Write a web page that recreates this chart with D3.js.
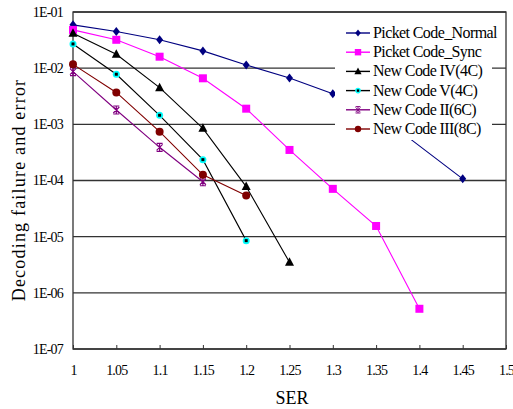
<!DOCTYPE html>
<html lang="en">
<head>
<meta charset="UTF-8">
<title>Decoding failure vs SER</title>
<script src="https://cdn.jsdelivr.net/npm/d3@7/dist/d3.min.js"></script>
<style>
    body { margin: 0; background: #fff; }
    .grid line { stroke: #333; stroke-width: 1.3px; }
</style>
</head>
<body>
<svg width="513" height="409"></svg>
<script>
// data
const serTicks = [1, 1.05, 1.1, 1.15, 1.2, 1.25, 1.3, 1.35, 1.4, 1.45, 1.5];
const yTicks = [1e-1, 1e-2, 1e-3, 1e-4, 1e-5, 1e-6, 1e-7];
const yTickLabels = ["1E-01", "1E-02", "1E-03", "1E-04", "1E-05", "1E-06", "1E-07"];

const pcNormalX = [1, 1.05, 1.1, 1.15, 1.2, 1.25, 1.3, 1.35, 1.45];
const pcNormalY = [0.059, 0.045, 0.032, 0.0203, 0.0114, 0.0067, 0.0035, 0.0016, 1.07e-4];
const pcSyncX = [1, 1.05, 1.1, 1.15, 1.2, 1.25, 1.3, 1.35, 1.4];
const pcSyncY = [0.048, 0.032, 0.016, 0.0066, 0.0019, 3.5e-4, 7.1e-5, 1.55e-5, 5.2e-7];
const nc4X = [1, 1.05, 1.1, 1.15, 1.2, 1.25];
const nc4Y = [0.042, 0.0177, 0.0045, 8.5e-4, 7.8e-5, 3.5e-6];
const nc5X = [1, 1.05, 1.1, 1.15, 1.2];
const nc5Y = [0.027, 0.0078, 1.45e-3, 2.35e-4, 8.5e-6];
const nc2X = [1, 1.05, 1.1, 1.15];
const nc2Y = [0.0087, 1.8e-3, 3.9e-4, 9.5e-5];
const nc3X = [1, 1.05, 1.1, 1.15, 1.2];
const nc3Y = [0.0117, 3.7e-3, 7.4e-4, 1.26e-4, 5.4e-5];

const series = [
    { name: "Picket Code_Normal", xs: pcNormalX, ys: pcNormalY, line: "#000080", fill: "#000080", mark: "diamond" },
    { name: "Picket Code_Sync", xs: pcSyncX, ys: pcSyncY, line: "#ff00ff", fill: "#ff00ff", mark: "square" },
    { name: "New Code IV(4C)", xs: nc4X, ys: nc4Y, line: "#000000", fill: "#000000", mark: "triangle" },
    { name: "New Code V(4C)", xs: nc5X, ys: nc5Y, line: "#000000", fill: "#00ffff", mark: "dot" },
    { name: "New Code II(6C)", xs: nc2X, ys: nc2Y, line: "#800080", fill: "#800080", mark: "star" },
    { name: "New Code III(8C)", xs: nc3X, ys: nc3Y, line: "#800000", fill: "#800000", mark: "circle" }
];

const serif = "Liberation Serif";
const svg = d3.select("svg");
const plotL = 73, plotR = 506, plotT = 12, plotB = 349;

const x = d3.scaleLinear().domain([1, 1.5]).range([plotL, plotR]);
const y = d3.scaleLog().domain([1e-7, 1e-1]).range([plotB, plotT]);

// horizontal gridlines
svg.append("g").attr("class", "grid")
    .selectAll("line").data(yTicks).enter().append("line")
    .attr("x1", plotL).attr("x2", plotR)
    .attr("y1", d => y(d)).attr("y2", d => y(d));

// frame
svg.append("rect")
    .attr("x", plotL).attr("y", plotT)
    .attr("width", plotR - plotL).attr("height", plotB - plotT)
    .attr("fill", "none").attr("stroke", "#333").attr("stroke-width", 1.3);

// x axis ticks (inside) and labels
const xAxis = svg.append("g").attr("transform", `translate(0,${plotB})`)
    .call(d3.axisBottom(x).tickValues(serTicks).tickSize(-4).tickPadding(16)
        .tickFormat(d => String(+d.toFixed(2))));
xAxis.select(".domain").remove();
xAxis.selectAll("line").attr("stroke", "#333");
xAxis.selectAll("text").style("font-family", serif).style("font-size", "14px")
    .style("letter-spacing", "-0.8px").attr("fill", "#000");

// y axis labels
const yAxis = svg.append("g").attr("transform", `translate(${plotL},0)`)
    .call(d3.axisLeft(y).tickValues(yTicks).tickSize(0).tickPadding(10)
        .tickFormat((d, i) => yTickLabels[i]));
yAxis.select(".domain").remove();
yAxis.selectAll("text").style("font-family", serif).style("font-size", "14px")
    .style("letter-spacing", "-0.8px").attr("fill", "#000");

// axis titles
svg.append("text")
    .attr("transform", "translate(25,190) rotate(-90)")
    .attr("text-anchor", "middle")
    .style("font-family", serif).style("font-size", "18px").style("letter-spacing", "1.2px")
    .text("Decoding failure and error");
svg.append("text")
    .attr("x", 292).attr("y", 404)
    .attr("text-anchor", "middle")
    .style("font-family", serif).style("font-size", "18px")
    .text("SER");

function marker(g, type, fill) {
    if (type === "diamond") {
        g.append("path").attr("d", "M0,-4.5L3.5,0L0,4.5L-3.5,0Z").attr("fill", fill);
    } else if (type === "square") {
        g.append("rect").attr("x", -4).attr("y", -4).attr("width", 8).attr("height", 8).attr("fill", fill);
    } else if (type === "triangle") {
        g.append("path").attr("d", "M0,-5L4.5,3.5L-4.5,3.5Z").attr("fill", fill);
    } else if (type === "dot") {
        g.append("circle").attr("r", 3.5).attr("fill", fill);
        g.append("rect").attr("x", -1.5).attr("y", -1.5).attr("width", 3).attr("height", 3).attr("fill", "#000");
    } else if (type === "star") {
        g.append("path").attr("d", "M-3,-3L3,3M-3,3L3,-3M0,-4L0,4M-3,-4L3,-4M-3,4L3,4")
            .attr("stroke", fill).attr("stroke-width", 1.2).attr("fill", "none");
    } else {
        g.append("circle").attr("r", 4).attr("fill", fill);
    }
}

const line = d3.line().x(d => x(d[0])).y(d => y(d[1]));

series.forEach(s => {
    const pts = s.xs.map((v, i) => [v, s.ys[i]]);
    svg.append("path").datum(pts)
        .attr("d", line)
        .attr("fill", "none")
        .attr("stroke", s.line)
        .attr("stroke-width", 1.1);
    pts.forEach(p => {
        marker(svg.append("g").attr("transform", `translate(${x(p[0])},${y(p[1])})`), s.mark, s.fill);
    });
});

// legend with white background
const legend = svg.append("g").attr("transform", "translate(335,22)");
legend.append("rect").attr("x", 0).attr("y", 0).attr("width", 157).attr("height", 118).attr("fill", "#fff");
series.forEach((s, i) => {
    const gy = 11 + i * 19.2;
    legend.append("line").attr("x1", 11).attr("x2", 35).attr("y1", gy).attr("y2", gy)
        .attr("stroke", s.line).attr("stroke-width", 1.4);
    marker(legend.append("g").attr("transform", `translate(23,${gy}) scale(0.8)`), s.mark, s.fill);
    legend.append("text").attr("x", 38).attr("y", gy + 5)
        .style("font-family", serif).style("font-size", "16px").style("letter-spacing", "-0.6px")
        .text(s.name);
});
</script>
</body>
</html>
